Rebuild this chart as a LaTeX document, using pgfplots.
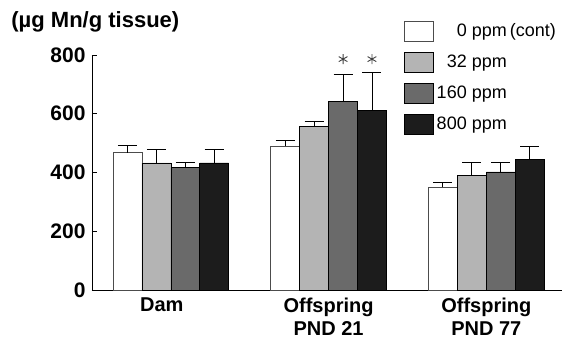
\documentclass[border=0pt]{standalone}
\usepackage{pgfplots}
\pgfplotsset{compat=1.18}
\usepackage{fontspec}
\setmainfont{Liberation Sans}
\definecolor{cA}{HTML}{FFFFFF}
\definecolor{cB}{HTML}{B4B4B4}
\definecolor{cC}{HTML}{6A6A6A}
\definecolor{cD}{HTML}{1C1C1C}
\begin{document}
\begin{tikzpicture}
\begin{axis}[
  scale only axis, width=470pt, height=235pt,
  xmin=-0.5, xmax=2.48, ymin=0, ymax=800,
  clip=false,
  axis x line*=bottom, axis y line*=left,
  axis line style={line width=0.8pt, -},
  xtick={0,1,2},
  xticklabels={Dam\hspace*{18pt},Offspring\\PND 21,Offspring\\PND 77},
  xticklabel style={font=\bfseries\fontsize{20}{23}\selectfont, align=center, yshift=-4pt},
  major x tick style={draw=none},
  ytick={0,200,400,600,800},
  tick align=inside, major tick length=5pt,
  tick style={line width=0.8pt, black},
  yticklabel style={font=\bfseries\fontsize{21}{24}\selectfont, xshift=-3pt},
  /pgf/number format/assume math mode=true,
  legend style={at={(1.0,1.155)}, anchor=north east, draw=none, fill=none,
    font=\fontsize{18}{20}\selectfont, row sep=10.5pt,
    legend cell align=left,
    nodes={inner xsep=3pt}},
  legend image code/.code={\draw[#1, line width=0.6pt] (0pt,-10pt) rectangle (29pt,10pt);},
  errb/.style={draw=none, forget plot,
    error bars/y dir=plus, error bars/y explicit,
    error bars/error bar style={black, line width=0.9pt},
    error bars/error mark options={rotate=90, mark size=9.5pt, line width=0.9pt, black}},
]
\addplot[ybar, bar width=0.1835, bar shift=-0.275, fill=cA, draw=black!70, line width=0.6pt]
  coordinates {(0,468) (1,490) (2,349)};
\addlegendentry{\phantom{00}0 ppm\,(cont)}
\addplot[ybar, bar width=0.1835, bar shift=-0.092, fill=cB, draw=black, line width=0.6pt]
  coordinates {(0,433) (1,556) (2,391)};
\addlegendentry{\phantom{0}32 ppm}
\addplot[ybar, bar width=0.1835, bar shift=0.092, fill=cC, draw=black, line width=0.6pt]
  coordinates {(0,417) (1,643) (2,402)};
\addlegendentry{160 ppm}
\addplot[ybar, bar width=0.1835, bar shift=0.275, fill=cD, draw=black, line width=0.6pt]
  coordinates {(0,433) (1,612) (2,444)};
\addlegendentry{800 ppm}
% error bars (upper only), at the bar centres
\addplot[errb] coordinates {(-0.275,468) +- (0,25) (0.725,490) +- (0,20) (1.725,349) +- (0,17)};
\addplot[errb] coordinates {(-0.092,433) +- (0,46) (0.908,556) +- (0,19) (1.908,391) +- (0,42)};
\addplot[errb] coordinates {(0.092,417) +- (0,18) (1.092,643) +- (0,92) (2.092,402) +- (0,31)};
\addplot[errb] coordinates {(0.275,433) +- (0,47) (1.275,612) +- (0,128) (2.275,444) +- (0,43)};
\addplot[only marks, mark=asterisk, mark size=5pt, black!75, line width=0.9pt, forget plot]
  coordinates {(1.092,786) (1.275,786)};
\node[anchor=west, font=\bfseries\fontsize{22}{25}\selectfont] at (rel axis cs:-0.179,1.14) {(µg Mn/g tissue)};
\end{axis}
\path (current axis.south west) ++(-92pt,-55pt) rectangle ++(564pt,345pt);
\end{tikzpicture}
\end{document}
